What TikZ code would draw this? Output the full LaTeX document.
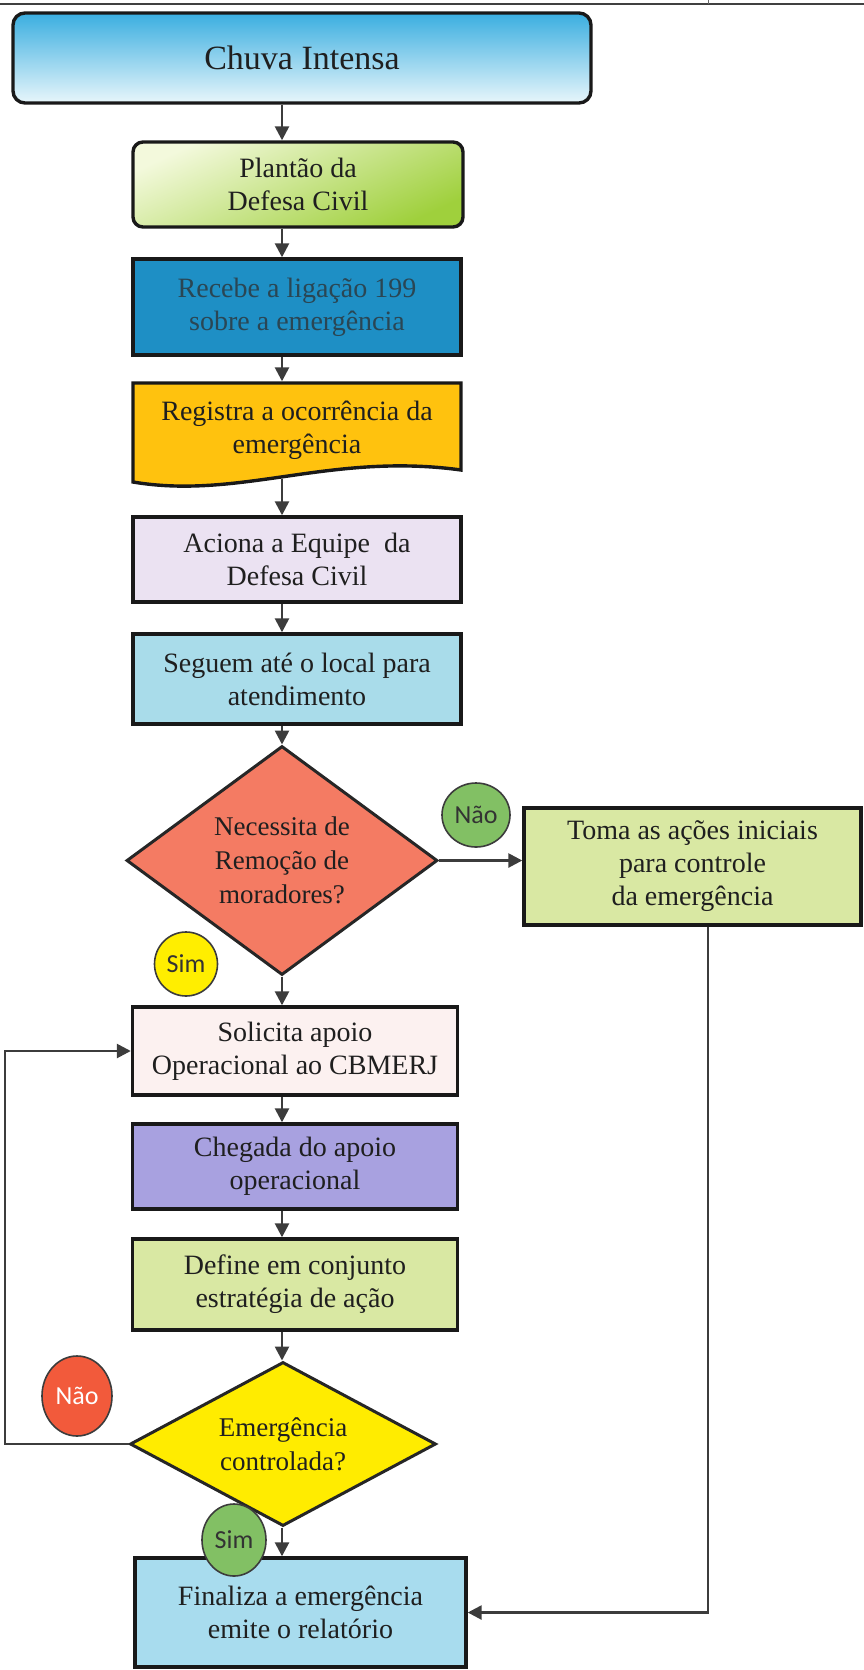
\documentclass[tikz,border=0pt]{standalone}
\usepackage{fontspec}
\setmainfont{Liberation Serif}
\newfontfamily\circfont{Carlito}
\usetikzlibrary{shapes.geometric,arrows.meta}
\definecolor{chuvaTop}{HTML}{3AAEE0}
\definecolor{chuvaBot}{HTML}{E8F6FB}
\definecolor{plantLight}{HTML}{F3F9DC}
\definecolor{plantGreen}{HTML}{9FD03C}
\definecolor{recebeC}{HTML}{1E8FC5}
\definecolor{recebeT}{HTML}{2A4654}
\definecolor{registraC}{HTML}{FFC20E}
\definecolor{acionaC}{HTML}{EBE2F2}
\definecolor{seguemC}{HTML}{A9DCEA}
\definecolor{diamA}{HTML}{F47B63}
\definecolor{tomaC}{HTML}{D9E8A3}
\definecolor{solicitaC}{HTML}{FCF1F0}
\definecolor{chegadaC}{HTML}{A8A1E0}
\definecolor{diamB}{HTML}{FFEC00}
\definecolor{finalizaC}{HTML}{A8DCEE}
\definecolor{greenC}{HTML}{82C064}
\definecolor{yellowC}{HTML}{FFEE00}
\definecolor{redC}{HTML}{F25A3B}
\definecolor{darkline}{HTML}{3C3C3C}
\begin{document}
\begin{tikzpicture}[x=1pt,y=-1pt,
  box/.style={draw=black!90,line width=3.4pt,rectangle,inner sep=0pt,align=center,
    font=\fontsize{28}{33}\selectfont,text=black!88},
  decision/.style={draw=black!85,line width=3pt,diamond,inner sep=0pt,align=center,
    font=\fontsize{27}{34}\selectfont,text=black!88},
  badge/.style={draw=darkline,line width=1.6pt,ellipse,inner sep=0pt,
    font=\circfont\fontsize{26}{28}\selectfont,text=black!80},
  arr/.style={draw=darkline,line width=2.6pt,-{Triangle[length=14pt,width=14pt]}}]
\useasboundingbox (0,0) rectangle (864,1670);
\draw[line width=1.6pt,black!75] (0,4) -- (864,4);
\draw[line width=0.8pt,black!60] (708,0) -- (708,4);
\coordinate (col) at (282,0);

\node[box,rounded corners=12pt,top color=chuvaTop,bottom color=chuvaBot,
  minimum width=578pt,minimum height=90pt,font=\fontsize{34}{40}\selectfont]
  (chuva) at (302,58) {Chuva Intensa};
\node[box,rounded corners=10pt,top color=plantLight,bottom color=plantGreen,shading angle=25,
  minimum width=330pt,minimum height=85pt] (plant) at (298,184.5) {Plantão da\\Defesa Civil};
\node[box,fill=recebeC,text=recebeT,minimum width=328pt,minimum height=96pt]
  (recebe) at (297,307) {Recebe a ligação 199\\sobre a emergência};
\draw[line width=3.4pt,draw=black!90,fill=registraC] (133,383) -- (461,383) -- (461,470)
  .. controls (330,452) and (240,500) .. (133,482) -- cycle;
\node[box,draw=none,minimum width=328pt,minimum height=94pt] (reg) at (297,430)
  {Registra a ocorrência da\\emergência};
\node[box,fill=acionaC,minimum width=328pt,minimum height=85pt] (aciona) at (297,559.5)
  {Aciona a Equipe~ da\\Defesa Civil};
\node[box,fill=seguemC,minimum width=328pt,minimum height=90pt] (seguem) at (297,679)
  {Seguem até o local para\\atendimento};
\node[decision,fill=diamA,minimum width=311pt,minimum height=229pt,aspect=1.36]
  (d1) at (282,860.5) {Necessita de\\Remoção de\\moradores?};
\node[box,fill=tomaC,minimum width=337pt,minimum height=117pt] (toma) at (692.5,866.5)
  {Toma as ações iniciais\\para controle\\da emergência};
\node[box,fill=solicitaC,minimum width=325pt,minimum height=88pt] (solicita) at (295,1051)
  {Solicita apoio\\Operacional ao CBMERJ};
\node[box,fill=chegadaC,minimum width=325pt,minimum height=85pt] (chegada) at (295,1166.5)
  {Chegada do apoio\\operacional};
\node[box,fill=tomaC,minimum width=325pt,minimum height=91pt] (define) at (295,1284.5)
  {Define em conjunto\\estratégia de ação};
\node[decision,fill=diamB,minimum width=306pt,minimum height=164pt,aspect=1.87]
  (d2) at (283,1444) {Emergência\\controlada?};
\node[box,fill=finalizaC,minimum width=331pt,minimum height=109pt] (finaliza) at (300.5,1612.5)
  {Finaliza a emergência\\emite o relatório};

\node[badge,fill=greenC,minimum width=68pt,minimum height=64pt] (nao1) at (476,815) {Não};
\node[badge,fill=yellowC,minimum width=63pt,minimum height=64pt] (sim1) at (186,964) {Sim};
\node[badge,fill=redC,text=white,minimum width=70pt,minimum height=80pt] (nao2) at (77,1396) {Não};
\node[badge,fill=greenC,minimum width=64pt,minimum height=72pt] (sim2) at (234,1540) {Sim};

\draw[arr] (chuva.south -| col) -- (plant.north -| col);
\draw[arr] (plant.south -| col) -- (recebe.north -| col);
\draw[arr] (recebe.south -| col) -- (reg.north -| col);
\draw[arr] (reg.south -| col) -- (aciona.north -| col);
\draw[arr] (aciona.south -| col) -- (seguem.north -| col);
\draw[arr] (seguem.south -| col) -- (d1.north);
\draw[arr] (d1.east) -- (d1.east -| toma.west);
\draw[arr] (d1.south) -- (solicita.north -| d1.south);
\draw[arr] (solicita.south -| col) -- (chegada.north -| col);
\draw[arr] (chegada.south -| col) -- (define.north -| col);
\draw[arr] (define.south -| col) -- (d2.north -| col);
\draw[arr] (d2.south -| col) -- (finaliza.north -| col);
\coordinate (loopx) at (5,0);
\draw[arr] (d2.west) -- (d2.west -| loopx) -- (solicita.west -| loopx) -- (solicita.west);
\coordinate (rightx) at (708,0);
\draw[arr] (toma.south -| rightx) -- (finaliza.east -| rightx) -- (finaliza.east);
\end{tikzpicture}
\end{document}
